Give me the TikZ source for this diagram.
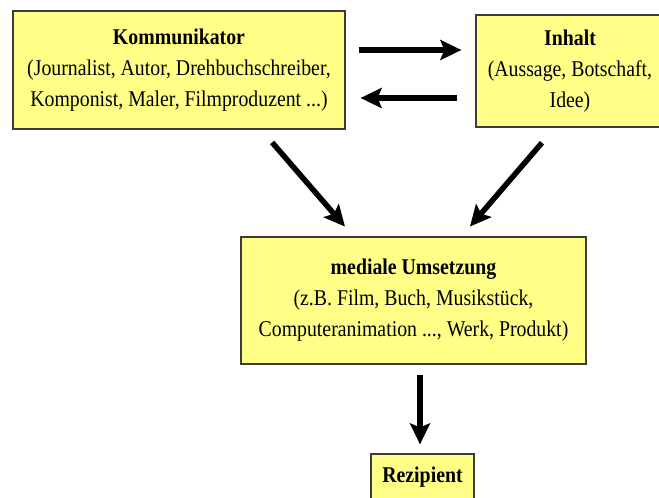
\documentclass[tikz,border=0pt]{standalone}
\usepackage{fontspec}
\setmainfont{Liberation Serif}[FakeStretch=0.88]
\usetikzlibrary{arrows.meta}

\definecolor{gelb}{RGB}{255,255,135}
\definecolor{rand}{RGB}{60,60,60}

\begin{document}
\begin{tikzpicture}[x=1pt,y=-1pt,
    kasten/.style={draw=rand,line width=1.2pt,fill=gelb,align=center,
        inner sep=0pt,font=\fontsize{22.5}{31}\selectfont},
    pfeil/.style={line width=5.5pt,-{Stealth[length=21pt,width=20pt,inset=4pt]}}]
    \useasboundingbox (0,0) rectangle (659,498);
    %
    \node[kasten,minimum width=332,minimum height=118] (komm) at (179,70)
        {\textbf{Kommunikator}\\(Journalist, Autor, Drehbuchschreiber,\\Komponist, Maler, Filmproduzent ...)};
    \node[kasten,minimum width=188,minimum height=112] (inhalt) at (570,71)
        {\textbf{Inhalt}\\(Aussage, Botschaft,\\Idee)};
    \node[kasten,minimum width=345,minimum height=127] (umsetzung) at (413.5,300.5)
        {\textbf{mediale Umsetzung}\\(z.B. Film, Buch, Musikst\"uck,\\Computeranimation ..., Werk, Produkt)};
    \node[kasten,minimum width=103,minimum height=46] (rezipient) at (422.5,477)
        {\textbf{Rezipient}};
    %
    \draw[pfeil,shorten <=13pt,shorten >=14pt] ([yshift=20pt]komm.east) -- ([yshift=21pt]inhalt.west);
    \draw[pfeil,shorten <=18pt,shorten >=15pt] ([yshift=-27pt]inhalt.west) -- ([yshift=-28pt]komm.east);
    %
    \draw[pfeil,shorten <=17pt,shorten >=13pt] ([xshift=82pt]komm.south) -- ([xshift=-60pt]umsetzung.north);
    \draw[pfeil,shorten <=20pt,shorten >=13pt] ([xshift=-15pt]inhalt.south) -- ([xshift=48pt]umsetzung.north);
    \draw[pfeil,shorten <=10pt,shorten >=9pt] ([xshift=6.5pt]umsetzung.south) -- ([xshift=6.5pt]umsetzung.south |- rezipient.north);
    %
\end{tikzpicture}
\end{document}
